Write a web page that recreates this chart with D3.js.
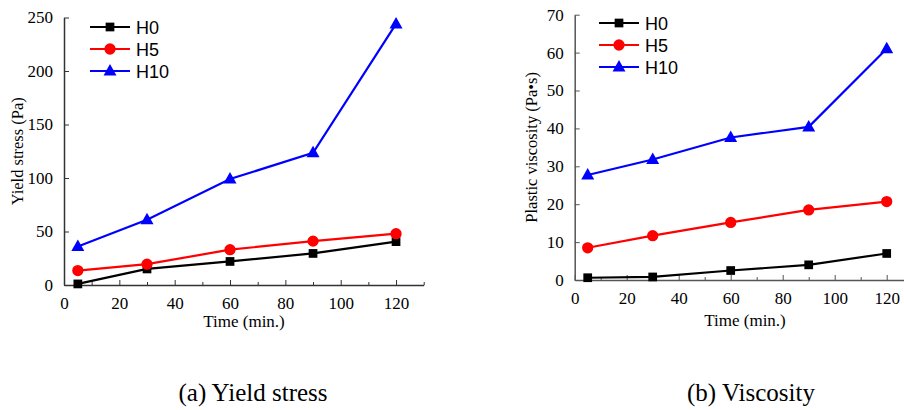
<!DOCTYPE html>
<html>
<head>
<meta charset="utf-8">
<script src="https://cdn.jsdelivr.net/npm/d3@7"></script>
<style>
  body { margin: 0; background: #fff; }
  svg { display: block; }
  .tick text { font-family: "Liberation Serif", "Times New Roman", serif; font-size: 17px; }
</style>
</head>
<body>
<div id="chart"></div>
<script>
// data
const times = [5, 30, 60, 90, 120];
const seriesNames = ["H0", "H5", "H10"];
const seriesColors = ["#000000", "#ff0000", "#0000ff"];
const seriesSymbols = ["square", "circle", "triangle"];

const yieldH0 = [1, 15, 22, 29.5, 40.5];
const yieldH5 = [13.5, 19.5, 33, 41, 48];
const yieldH10 = [36, 61, 99, 123.5, 244];

const viscH0 = [0.6, 0.8, 2.5, 4, 7];
const viscH5 = [8.5, 11.7, 15.2, 18.5, 20.7];
const viscH10 = [27.7, 31.8, 37.6, 40.4, 61];

const yieldTicks = [0, 50, 100, 150, 200, 250];
const viscTicks = [0, 10, 20, 30, 40, 50, 60, 70];
const timeTicks = [0, 20, 40, 60, 80, 100, 120];

const W = 904, H = 410;
const serif = "Liberation Serif, Times New Roman, serif";
const sans = "Liberation Sans, Arial, sans-serif";

const svg = d3.select("#chart").append("svg")
    .attr("width", W)
    .attr("height", H);

function drawPanel(opt) {
    const x = d3.scaleLinear().domain([0, 130]).range([opt.left, opt.left + 130 * opt.pxPerX]);
    const y = d3.scaleLinear().domain([0, opt.yMax]).range([opt.bottom, opt.top]);
    const g = svg.append("g");

    // x axis, minor ticks at odd tens, all ticks pointing inward
    g.append("g")
        .attr("transform", `translate(0,${opt.bottom})`)
        .call(d3.axisBottom(x).tickValues(d3.range(10, 131, 20)).tickSize(-3).tickFormat(""))
        .call(a => a.select(".domain").remove())
        .selectAll("line").attr("stroke", opt.axisColor);

    const xAxis = g.append("g")
        .attr("transform", `translate(0,${opt.bottom})`)
        .call(d3.axisBottom(x).tickValues(timeTicks).tickSizeInner(-5).tickSizeOuter(0).tickPadding(12));
    xAxis.attr("font-family", serif).attr("font-size", 17);
    xAxis.select(".domain").attr("stroke", opt.axisColor).attr("stroke-width", 1.5);
    xAxis.selectAll("line").attr("stroke", opt.axisColor);
    xAxis.selectAll("text").attr("fill", "#000");

    // y axis
    const yAxis = g.append("g")
        .attr("transform", `translate(${opt.left},0)`)
        .call(d3.axisLeft(y).tickValues(opt.yTicks).tickSizeInner(-5).tickSizeOuter(0).tickPadding(11));
    yAxis.attr("font-family", serif).attr("font-size", 17);
    yAxis.select(".domain").attr("stroke", opt.axisColor).attr("stroke-width", 1.5);
    yAxis.selectAll("line").attr("stroke", opt.axisColor);
    yAxis.selectAll("text").attr("fill", "#000");

    // axis titles
    g.append("text")
        .attr("transform", `translate(${opt.yTitleX},${(opt.top + opt.bottom) / 2}) rotate(-90)`)
        .attr("text-anchor", "middle")
        .attr("font-family", serif)
        .attr("font-size", 16.5)
        .text(opt.yTitle);
    g.append("text")
        .attr("x", opt.xTitleX)
        .attr("y", opt.xTitleY)
        .attr("text-anchor", "middle")
        .attr("font-family", serif)
        .attr("font-size", 17)
        .text("Time (min.)");

    // lines + markers
    const line = d3.line().x((d, i) => x(times[i])).y(d => y(d));
    opt.series.forEach((vals, k) => {
        g.append("path")
            .datum(vals)
            .attr("fill", "none")
            .attr("stroke", seriesColors[k])
            .attr("stroke-width", 2.2)
            .attr("d", line);
        g.selectAll(null)
            .data(vals)
            .join("path")
            .attr("transform", (d, i) => `translate(${x(times[i])},${y(d)})`)
            .attr("d", markerPath(seriesSymbols[k]))
            .attr("fill", seriesColors[k]);
    });

    // legend
    seriesNames.forEach((name, k) => {
        const ly = opt.legY + k * 22;
        g.append("line")
            .attr("x1", opt.legX).attr("x2", opt.legX + 40)
            .attr("y1", ly).attr("y2", ly)
            .attr("stroke", seriesColors[k]).attr("stroke-width", 2.2);
        g.append("path")
            .attr("transform", `translate(${opt.legX + 20},${ly})`)
            .attr("d", markerPath(seriesSymbols[k]))
            .attr("fill", seriesColors[k]);
        g.append("text")
            .attr("x", opt.legX + 46)
            .attr("y", ly + 6.5)
            .attr("font-family", sans)
            .attr("font-size", 18)
            .text(name);
    });

    // caption
    g.append("text")
        .attr("x", opt.capX)
        .attr("y", 401)
        .attr("text-anchor", "middle")
        .attr("font-family", serif)
        .attr("font-size", 25)
        .text(opt.caption);
}

function markerPath(type) {
    if (type === "square") return d3.symbol(d3.symbolSquare, 76)();
    if (type === "circle") return d3.symbol(d3.symbolCircle, 100)();
    return "M0,-7L6.5,4.5L-6.5,4.5Z";
}

drawPanel({
    left: 64, top: 17.5, bottom: 285, pxPerX: 2.767, yMax: 250, yTicks: yieldTicks,
    axisColor: "#333",
    series: [yieldH0, yieldH5, yieldH10],
    yTitle: "Yield stress (Pa)", yTitleX: 23,
    xTitleX: 244, xTitleY: 327,
    legX: 90, legY: 27,
    caption: "(a) Yield stress", capX: 253
});

drawPanel({
    left: 574.7, top: 14.7, bottom: 280, pxPerX: 2.6, yMax: 70, yTicks: viscTicks,
    axisColor: "#555",
    series: [viscH0, viscH5, viscH10],
    yTitle: "Plastic viscosity (Pa\u2022s)", yTitleX: 537,
    xTitleX: 745, xTitleY: 326,
    legX: 599, legY: 23,
    caption: "(b) Viscosity", capX: 751
});
</script>
</body>
</html>
